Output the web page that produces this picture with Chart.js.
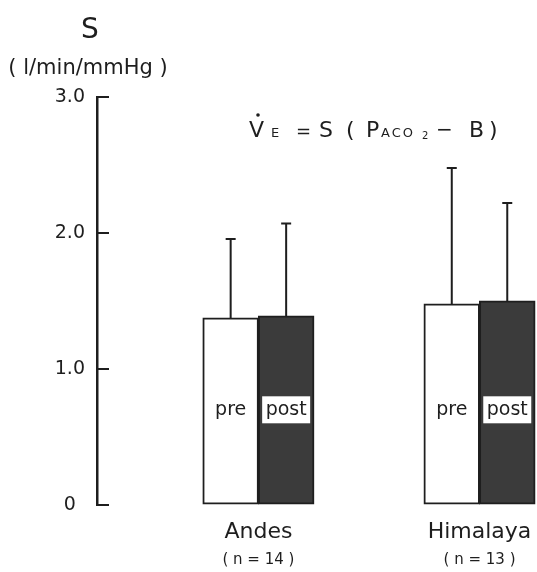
<!DOCTYPE html>
<html><head><meta charset="utf-8">
<script src="https://cdn.jsdelivr.net/npm/chart.js@4"></script>
<style>html,body{margin:0;padding:0;background:#fff;} #wrap{width:537px;height:572px;position:relative;}</style>
</head><body><div id="wrap"><canvas id="c"></canvas></div>
<script>
// ---- data ----
const regions = ['Andes', 'Himalaya'];
const sampleLabels = ['( n = 14 )', '( n = 13 )'];
const xPositions = [1, 2];
const preMean = [1.375, 1.478];
const preSD = [0.58, 1.00];
const postMean = [1.39, 1.50];
const postSD = [0.68, 0.72];
const yTicks = [0, 1, 2, 3];
const yTickLabels = ['0', '1.0', '2.0', '3.0'];
const barTags = ['pre', 'post'];
const yTitle = ['S', '( l/min/mmHg )'];

const FONT = '"DejaVu Sans", "Liberation Sans", sans-serif';
const INK = '#1e1e1e';
Chart.defaults.font.family = FONT;
Chart.defaults.color = INK;

const sds = [preSD, postSD];

const overlay = {
  id: 'overlay',
  afterDatasetsDraw(chart) {
    const ctx = chart.ctx;
    const y = chart.scales.y;
    ctx.save();
    chart.data.datasets.forEach((ds, d) => {
      const meta = chart.getDatasetMeta(d);
      meta.data.forEach((bar, i) => {
        const mean = ds.data[i].y;
        const top = y.getPixelForValue(mean + sds[d][i]);
        ctx.strokeStyle = INK;
        ctx.lineWidth = 2;
        ctx.beginPath();
        ctx.moveTo(bar.x, bar.y);
        ctx.lineTo(bar.x, top);
        ctx.moveTo(bar.x - 5, top);
        ctx.lineTo(bar.x + 5, top);
        ctx.stroke();
        const ty = y.getPixelForValue(0.70);
        ctx.font = '19px ' + FONT;
        ctx.textAlign = 'center';
        ctx.textBaseline = 'middle';
        if (d === 1) {
          ctx.fillStyle = '#ffffff';
          ctx.fillRect(bar.x - 24, ty - 13.5, 48, 27);
        }
        ctx.fillStyle = INK;
        ctx.fillText(barTags[d], bar.x, ty);
      });
    });
    ctx.restore();
  },
  afterDraw(chart) {
    const ctx = chart.ctx;
    const y = chart.scales.y;
    ctx.save();
    ctx.fillStyle = INK;
    ctx.textAlign = 'center';
    ctx.textBaseline = 'alphabetic';
    const cx = y.right - 7;
    ctx.font = '28px ' + FONT;
    ctx.fillText(yTitle[0], cx, y.top - 59);
    ctx.font = '21px ' + FONT;
    ctx.fillText(yTitle[1], cx - 2, y.top - 23);

    // formula  V̇E = S ( PACO2 − B )
    ctx.textAlign = 'left';
    const base = 137;
    const parts = [
      ['V', 22, 249, 0, 0],
      ['E', 13, 271, 0, 0],
      ['=', 18, 296, 0, 0],
      ['S', 22, 319, 0, 0],
      ['(', 22, 346, 0, 0],
      ['P', 22, 366, 0, 0],
      ['ACO', 13, 381, 0, 2],
      ['2', 10, 422, 2, 0],
      ['\u2212', 20, 436, -1, 0],
      ['B', 22, 469, 0, 0],
      [')', 22, 489, 0, 0]
    ];
    parts.forEach(([t, s, x, dy, ls]) => {
      ctx.font = s + 'px ' + FONT;
      ctx.letterSpacing = ls + 'px';
      ctx.fillText(t, x, base + dy);
    });
    ctx.letterSpacing = '0px';
    ctx.beginPath();
    ctx.arc(258, 115, 1.8, 0, Math.PI * 2);
    ctx.fill();
    ctx.restore();
  }
};

const noPad = s => { s.paddingLeft = 0; s.paddingRight = 0; };

new Chart(document.getElementById('c'), {
  type: 'bar',
  data: {
    datasets: [
      { label: 'pre', data: xPositions.map((x, i) => ({ x, y: preMean[i] })),
        backgroundColor: '#ffffff', borderColor: INK, borderWidth: 2, borderSkipped: false,
        inflateAmount: 0.5,
        categoryPercentage: 0.502, barPercentage: 1, xAxisID: 'x' },
      { label: 'post', data: xPositions.map((x, i) => ({ x, y: postMean[i] })),
        backgroundColor: '#3b3b3b', borderColor: INK, borderWidth: 2, borderSkipped: false,
        inflateAmount: 0.5,
        categoryPercentage: 0.502, barPercentage: 1, xAxisID: 'x' }
    ]
  },
  options: {
    responsive: true, maintainAspectRatio: false, animation: false,
    layout: { padding: { top: 97, right: 0, bottom: 0, left: 0 } },
    plugins: { legend: { display: false }, tooltip: { enabled: false }, title: { display: false } },
    scales: {
      x: {
        type: 'linear', position: 'bottom', min: 0.27, max: 2.26, offset: false, weight: 0,
        grid: { display: false, drawTicks: false }, border: { display: false },
        afterBuildTicks: s => { s.ticks = xPositions.map(v => ({ value: v })); },
        afterFit: s => { s.height = 40; noPad(s); },
        ticks: { autoSkip: false, maxRotation: 0, minRotation: 0, padding: 14,
          font: { size: 22 }, color: INK, callback: (v, i) => regions[i] }
      },
      x2: {
        type: 'linear', axis: 'x', position: 'bottom', min: 0.27, max: 2.26, offset: false, weight: 1,
        grid: { display: false, drawTicks: false }, border: { display: false },
        afterBuildTicks: s => { s.ticks = xPositions.map(v => ({ value: v })); },
        afterFit: s => { s.height = 27; noPad(s); },
        ticks: { autoSkip: false, maxRotation: 0, minRotation: 0, padding: 6,
          font: { size: 15 }, color: INK, callback: (v, i) => sampleLabels[i] }
      },
      y: {
        type: 'linear', position: 'left', min: 0, max: 3,
        afterFit: s => { s.width = 97; },
        afterBuildTicks: s => { s.ticks = yTicks.map(v => ({ value: v })); },
        grid: { display: true, drawOnChartArea: false, drawTicks: true, tickLength: -12,
          color: INK, lineWidth: 2 },
        border: { display: true, color: INK, width: 2.5 },
        ticks: { padding: 24, crossAlign: 'center', font: { size: 19 }, color: INK,
          callback: (v, i) => yTickLabels[i] }
      }
    }
  },
  plugins: [overlay]
});
</script>
</body></html>
